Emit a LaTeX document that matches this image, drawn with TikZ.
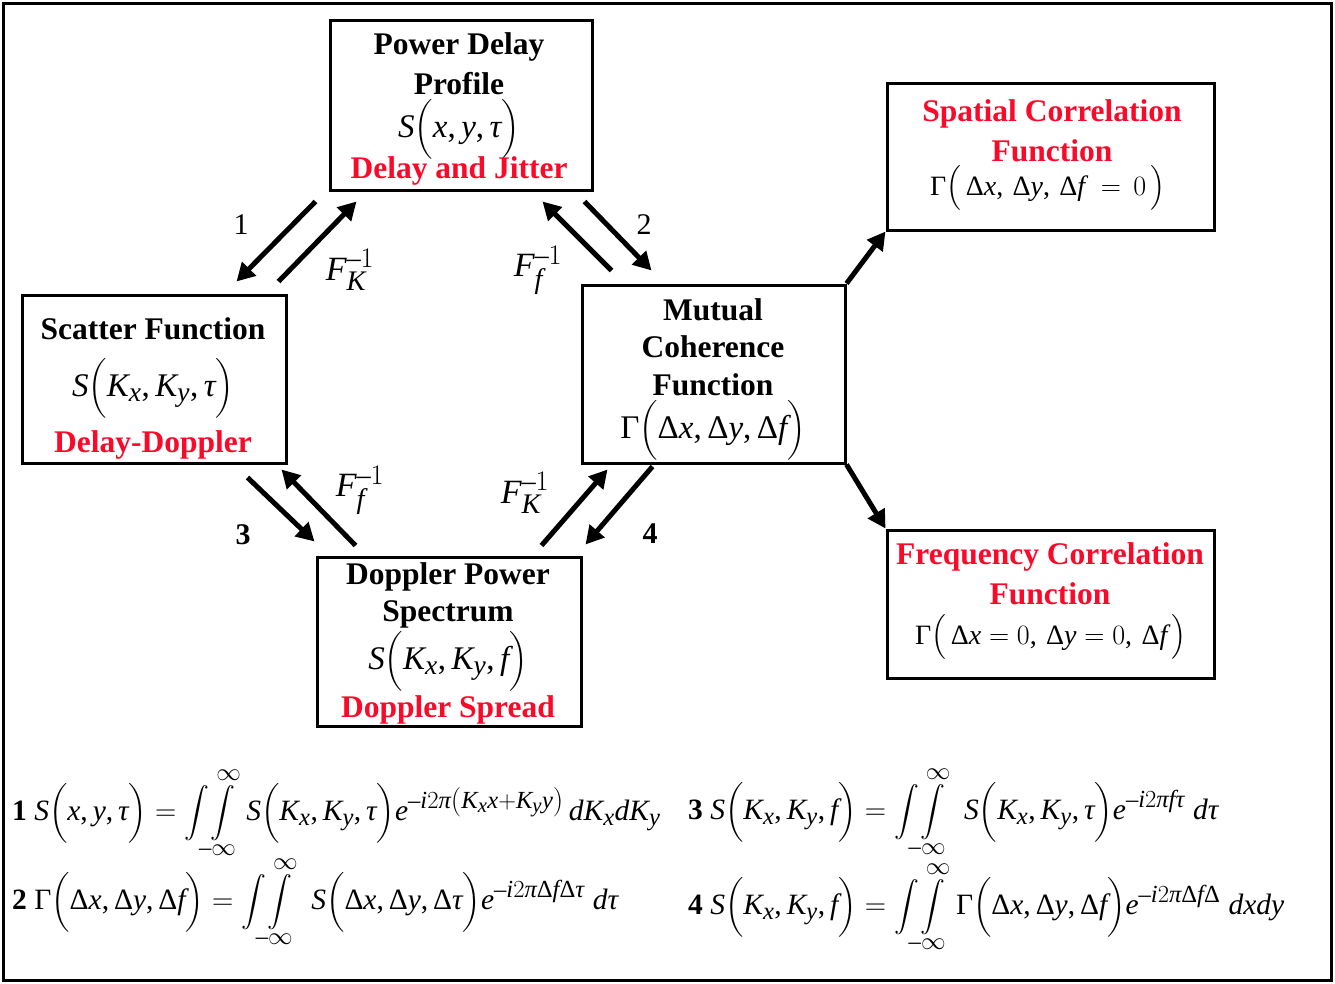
\RequirePackage{fix-cm}
\documentclass[tikz,border=0pt]{standalone}
\usepackage{amsmath}
\usepackage{fontspec}
\setmainfont{Liberation Serif}
\usepackage[italic]{mathastext}
\usetikzlibrary{calc,arrows.meta}
\definecolor{tred}{RGB}{250,10,40}
\newcommand{\uG}{\mathord{\text{\normalfont Γ}}}
\newcommand{\uD}{\mathord{\text{\normalfont Δ}}}
\newcommand{\iT}{\mathord{\text{\normalfont\itshape τ}}}
\newcommand{\iP}{\mathord{\text{\normalfont\itshape π}}}
\begin{document}
\begin{tikzpicture}[x=1pt,y=-1pt,
  box/.style={draw=black,line width=3pt,rectangle,inner sep=0pt},
  ttl/.style={font=\bfseries\fontsize{31.5}{36}\selectfont,inner sep=0pt},
  rtl/.style={ttl,text=tred},
  mth/.style={font=\fontsize{33}{38}\selectfont,inner sep=0pt},
  fl/.style={font=\fontsize{34}{38}\selectfont,inner sep=0pt},
  smth/.style={font=\fontsize{28}{32}\selectfont,inner sep=0pt},
  arr/.style={line width=5pt,-{Triangle[length=18pt,width=19pt]}},
  num/.style={font=\fontsize{30}{34}\selectfont,inner sep=0pt},
  bnum/.style={font=\bfseries\fontsize{30}{34}\selectfont,inner sep=0pt},
  frm/.style={font=\fontsize{29.5}{34}\selectfont,inner sep=0pt,anchor=west}]
\useasboundingbox (0,0) rectangle (1335,983);
\fill[white] (0,0) rectangle (1335,983);
\draw[line width=3pt] (3,3) rectangle (1331,980);

% boxes
\node[box,minimum width=262pt,minimum height=170pt] (pdp) at (461,105) {};
\node[box,minimum width=264pt,minimum height=168pt] (sc) at (154,379) {};
\node[box,minimum width=263pt,minimum height=178pt] (mcf) at (713.5,374) {};
\node[box,minimum width=264pt,minimum height=169pt] (dps) at (449,641.5) {};
\node[box,minimum width=327pt,minimum height=147pt] (spc) at (1050.5,156.5) {};
\node[box,minimum width=327pt,minimum height=148pt] (frq) at (1050.5,604) {};

% texts: power delay profile
\node[ttl] (pdp1) at (459,47) {Power Delay};
\node[ttl] (pdp2) at (459,84) {Profile};
\node[mth] (pdp3) at (459,129) {$S\Bigl(x,y,\iT\Bigr)$};
\node[rtl] (pdp4) at (459,171) {Delay and Jitter};
% scatter
\node[ttl] (sc1) at (153,329) {Scatter Function};
\node[mth] (sc2) at (153,388) {$S\Bigl(K_x,K_y,\iT\Bigr)$};
\node[rtl] (sc3) at (153,445) {Delay-Doppler};
% mutual coherence
\node[ttl] (mcf1) at (713,310) {Mutual};
\node[ttl] (mcf2) at (713,347) {Coherence};
\node[ttl] (mcf3) at (713,385) {Function};
\node[mth] (mcf4) at (713,430) {$\uG\Bigl(\uD x,\uD y,\uD f\Bigr)$};
% doppler power spectrum
\node[ttl] (dps1) at (448,577) {Doppler Power};
\node[ttl] (dps2) at (448,614) {Spectrum};
\node[mth] (dps3) at (448,661) {$S\Bigl(K_x,K_y,f\Bigr)$};
\node[rtl] (dps4) at (448,710) {Doppler Spread};
% spatial
\node[rtl] (spc1) at (1052,114) {Spatial Correlation};
\node[rtl] (spc2) at (1052,151) {Function};
\node[smth] (spc3) at (1048,188) {$\uG\bigl(\,\uD x,\,\uD y,\,\uD f\;=\,0\,\bigr)$};
% frequency
\node[rtl] (frq1) at (1050,557) {Frequency Correlation};
\node[rtl] (frq2) at (1050,594) {Function};
\node[smth] (frq3) at (1051,637) {$\uG\bigl(\,\uD x=0,\,\uD y=0,\,\uD f\,\bigr)$};

% arrows
\draw[arr] ($(pdp.south west)+(-13,10)$) -- ($(sc.north east)+(-51,-12)$);
\draw[arr] ($(sc.north east)+(-9,-12)$) -- ($(pdp.south west)+(28,10)$);
\draw[arr] ($(pdp.south east)+(-9,10)$) -- ($(mcf.north west)+(71,-13)$);
\draw[arr] ($(mcf.north west)+(31,-13)$) -- ($(pdp.south east)+(-51,10)$);
\draw[arr] ($(sc.south east)+(-40,13)$) -- ($(dps.north west)+(-1,-14)$);
\draw[arr] ($(dps.north west)+(40,-10)$) -- ($(sc.south east)+(-6,5)$);
\draw[arr] ($(dps.north east)+(-41,-10)$) -- ($(mcf.south west)+(27,5)$);
\draw[arr] ($(mcf.south west)+(72,2)$) -- ($(dps.north east)+(3,-11)$);
\draw[arr] (mcf.north east) -- (spc.south west);
\draw[arr] (mcf.south east) -- (frq.north west);

% arrow labels
\node[num] (l1) at (241,225) {1};
\node[num] (l2) at (644,225) {2};
\node[bnum] (l3) at (243,535) {3};
\node[bnum] (l4) at (650,534) {4};
\node[fl] (f1) at (350,270) {$F_K^{-1}$};
\node[fl] (f2) at (538,270) {$F_f^{-1}$};
\node[fl] (f3) at (360,490) {$F_f^{-1}$};
\node[fl] (f4) at (525,493) {$F_K^{-1}$};

% formulas
\node[frm] (eq1) at (12,813) {\textbf{1} $\displaystyle S\Bigl(x,y,\iT\Bigr)=\int\!\!\int\limits_{-\infty}^{\infty}S\Bigl(K_x,K_y,\iT\Bigr)e^{-i2\iP\left(K_xx+K_yy\right)}\,dK_xdK_y$};
\node[frm] (eq3) at (688,812) {\textbf{3} $\displaystyle S\Bigl(K_x,K_y,f\Bigr)=\int\!\!\int\limits_{-\infty}^{\infty}\;S\Bigl(K_x,K_y,\iT\Bigr)e^{-i2\iP f\iT}\;d\iT$};
\node[frm] (eq2) at (12,902) {\textbf{2} $\displaystyle \uG\Bigl(\uD x,\uD y,\uD f\Bigr)=\int\!\!\int\limits_{-\infty}^{\infty}\;S\Bigl(\uD x,\uD y,\uD\iT\Bigr)e^{-i2\iP\uD f\uD\iT}\;d\iT$};
\node[frm] (eq4) at (688,907) {\textbf{4} $\displaystyle S\Bigl(K_x,K_y,f\Bigr)=\int\!\!\int\limits_{-\infty}^{\infty}\uG\Bigl(\uD x,\uD y,\uD f\Bigr)e^{-i2\iP\uD f\uD}\;dxdy$};
\end{tikzpicture}
\end{document}
